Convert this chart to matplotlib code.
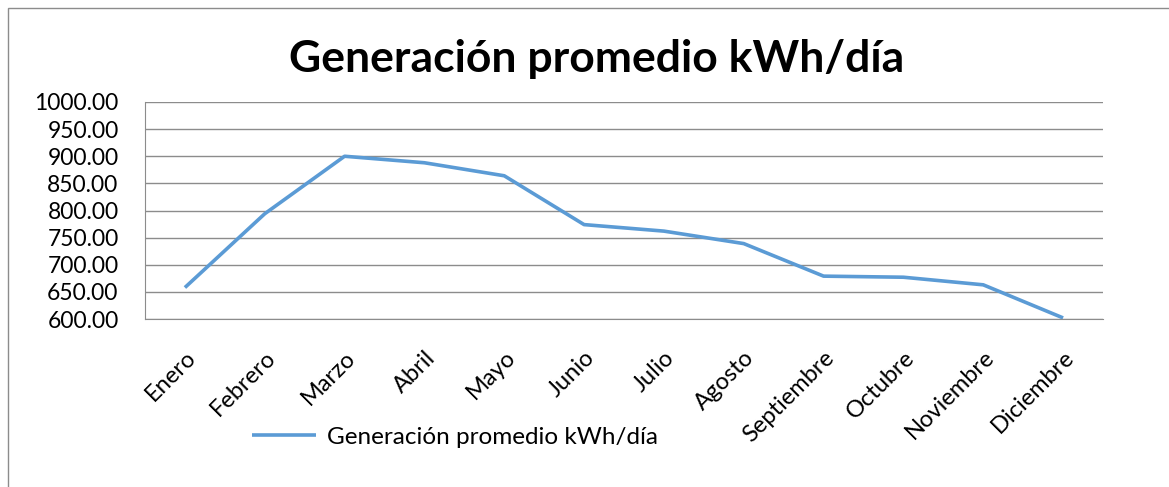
import numpy as np
import matplotlib
matplotlib.use("Agg")
import matplotlib.pyplot as plt
from matplotlib.patches import Rectangle

##################################################

meses = ["Enero", "Febrero", "Marzo", "Abril", "Mayo", "Junio", "Julio",
         "Agosto", "Septiembre", "Octubre", "Noviembre", "Diciembre"]
generacion = [658, 794, 900, 888, 864, 774, 762, 739, 679, 677, 663, 602]
y_ticks = [600, 650, 700, 750, 800, 850, 900, 950, 1000]
titulo = "Generación promedio kWh/día"

##################################################

plt.rcParams['font.family'] = ['Lato', 'DejaVu Sans']

W, H = 1169, 487
fig = plt.figure(figsize=(W / 100, H / 100), dpi=100)
ax = fig.add_axes([145 / W, 1 - 319 / H, (1103 - 145) / W, (319 - 102) / H])

x = np.arange(len(meses))
ax.plot(x, generacion, color="#5B9BD5", lw=2.6, label=titulo,
        solid_joinstyle="round", solid_capstyle="butt")

ax.set_xlim(-0.5, len(meses) - 0.5)
ax.set_ylim(600, 1000)
ax.set_yticks(y_ticks)
ax.set_yticklabels(["{:.2f}".format(v) for v in y_ticks], fontsize=16.5)
ax.set_xticks(x)
ax.set_xticklabels(meses, rotation=45, ha="right", va="top",
                   rotation_mode="anchor", fontsize=17)
ax.tick_params(axis="y", length=0, pad=19)
ax.tick_params(axis="x", length=0, pad=20)
ax.grid(axis="y", color="#8c8c8c", lw=1)
ax.set_axisbelow(True)
for s in ["top", "right"]:
    ax.spines[s].set_visible(False)
ax.spines["left"].set_color("#8c8c8c")
ax.spines["bottom"].set_color("#8c8c8c")

fig.text(597 / W, 1 - 59 / H, titulo, ha="center", va="center",
         fontsize=32, fontweight="bold")

fig.legend(loc="center", bbox_to_anchor=(455 / W, 1 - 437 / H), frameon=False,
           fontsize=17.5, handlelength=2.6, handletextpad=0.45)

# borde del grafico
fig.patches.append(Rectangle((8 / W, -0.1), 1.2, 1.1 - 8 / H,
                             transform=fig.transFigure, fill=False,
                             edgecolor="#8c8c8c", lw=1))

fig.savefig("out.png", dpi=100)
